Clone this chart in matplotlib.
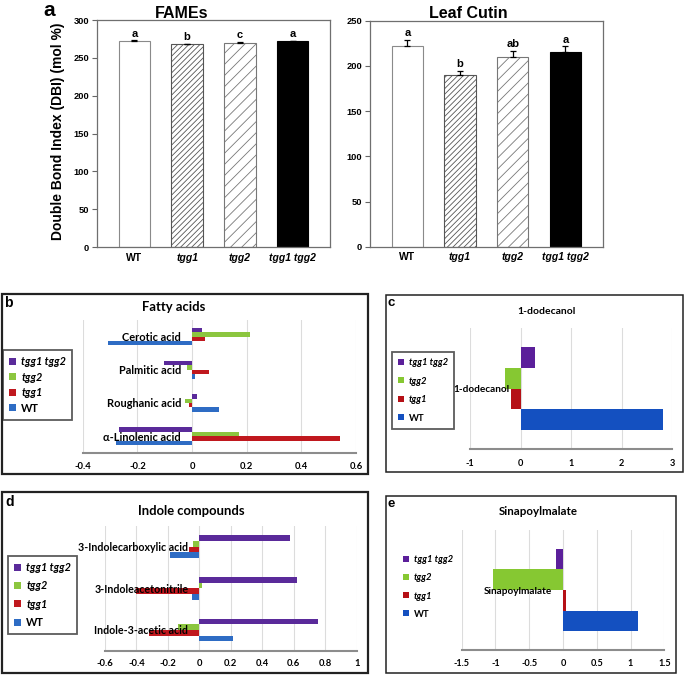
import numpy as np
import matplotlib
matplotlib.use("Agg")
import matplotlib.pyplot as plt
from matplotlib.patches import Rectangle, Patch

W, H = 685, 675

# ---- panel a data ----
genotypes = ["WT", "tgg1", "tgg2", "tgg1 tgg2"]
fames_dbi = [272.5, 268.3, 270.2, 271.8]
fames_err = [0.8, 0.6, 0.6, 0.8]
fames_letters = ["a", "b", "c", "a"]
cutin_dbi = [222.3, 190.3, 209.4, 215.7]
cutin_err = [6.3, 4.0, 7.0, 6.0]
cutin_letters = ["a", "b", "ab", "a"]

# ---- panels b-e data (series order: WT, tgg1, tgg2, tgg1 tgg2) ----
fatty_acids = ["α-Linolenic acid", "Roughanic acid", "Palmitic acid", "Cerotic acid"]
fatty_wt = [-0.279, 0.098, 0.010, -0.309]
fatty_tgg1 = [0.543, -0.011, 0.061, 0.048]
fatty_tgg2 = [0.172, -0.024, -0.017, 0.212]
fatty_dm = [-0.267, 0.020, -0.104, 0.037]

dodecanol = ["1-dodecanol"]
dodec_wt = [2.82]
dodec_tgg1 = [-0.18]
dodec_tgg2 = [-0.31]
dodec_dm = [0.28]

indoles = ["Indole-3-acetic acid", "3-Indoleacetonitrile", "3-Indolecarboxylic acid"]
indole_wt = [0.216, -0.044, -0.186]
indole_tgg1 = [-0.320, -0.403, -0.066]
indole_tgg2 = [-0.138, 0.019, -0.038]
indole_dm = [0.756, 0.619, 0.576]

sinapoyl = ["Sinapoylmalate"]
sinap_wt = [1.105]
sinap_tgg1 = [0.04]
sinap_tgg2 = [-1.04]
sinap_dm = [-0.099]

series_names = ["WT", "tgg1", "tgg2", "tgg1 tgg2"]

plt.rcParams['font.family'] = ['Lato', 'DejaVu Sans']
plt.rcParams['hatch.linewidth'] = 0.6

fig = plt.figure(figsize=(W / 100, H / 100), dpi=100)


def px_axes(left, top, right, bottom):
    return fig.add_axes([left / W, 1 - bottom / H, (right - left) / W, (bottom - top) / H])


def fig_text(x, y, s, **kw):
    return fig.text(x / W, 1 - y / H, s, **kw)


def box(left, top, right, bottom, lw=1.5, color='#222222'):
    fig.add_artist(Rectangle((left / W, 1 - bottom / H), (right - left) / W, (bottom - top) / H,
                             transform=fig.transFigure, fill=False, edgecolor=color, lw=lw))


# ================= panel a =================
arial = ['Liberation Sans', 'DejaVu Sans']
bar_styles = [
    dict(color='white', edgecolor='#8a8a8a', hatch=None),
    dict(color='white', edgecolor='#555555', hatch='//////'),
    dict(color='white', edgecolor='#777777', hatch='///'),
    dict(color='black', edgecolor='black', hatch=None),
]


def dbi_panel(ax, vals, errs, letters, ymax, step):
    x = np.arange(len(vals))
    for i in range(len(vals)):
        st = bar_styles[i]
        ax.bar(x[i], vals[i], 0.6, facecolor=st['color'], edgecolor=st['edgecolor'],
               hatch=st['hatch'], linewidth=0.8)
    ax.errorbar(x, vals, yerr=[np.zeros(len(errs)), errs], fmt='none', ecolor='black',
                elinewidth=0.9, capsize=2.2, capthick=0.9)
    for xi, v, e, l in zip(x, vals, errs, letters):
        ax.annotate(l, (xi, v + e), xytext=(0, 1.2), textcoords='offset points',
                    ha='center', va='bottom', fontsize=8, fontweight='bold', family=arial)
    ax.set_xlim(-0.71, 3.71)
    ax.set_ylim(0, ymax)
    ax.set_yticks(np.arange(0, ymax + 1, step))
    ax.set_xticks(x)
    ax.set_xticklabels(genotypes)
    for i, t in enumerate(ax.get_xticklabels()):
        t.set_fontweight('bold')
        t.set_family(arial)
        t.set_fontsize(7.5)
        if i > 0:
            t.set_fontstyle('italic')
    for t in ax.get_yticklabels():
        t.set_fontweight('bold')
        t.set_family(arial)
        t.set_fontsize(6.7)
    ax.tick_params(axis='x', length=0, pad=4)
    ax.tick_params(axis='y', length=3.3, width=0.8, pad=2.5, color='#666666')
    for s in ax.spines.values():
        s.set_color('#6f6f6f')
        s.set_linewidth(0.9)


ax_fames = px_axes(97, 20, 330, 247)
dbi_panel(ax_fames, fames_dbi, fames_err, fames_letters, 300, 50)
ax_cutin = px_axes(370, 20.7, 602.7, 246.7)
dbi_panel(ax_cutin, cutin_dbi, cutin_err, cutin_letters, 250, 50)

fig_text(182, 13.5, "FAMEs", ha='center', va='center', fontsize=11.5, fontweight='bold', family=arial)
fig_text(468, 13.5, "Leaf Cutin", ha='center', va='center', fontsize=11.5, fontweight='bold', family=arial)
fig_text(58, 131, "Double Bond Index (DBI) (mol %)", rotation=90, ha='center', va='center',
         fontsize=10, fontweight='bold', family=arial)
fig_text(49, 15.5, "a", ha='center', va='baseline', fontsize=15, fontweight='bold', family=arial)

# ================= panels b-e =================
colors = ['#2e6cc4', '#c0181e', '#8cc63f', '#5a2a9a']
colors_dark = ['#1450c0', '#b51016', '#86c832', '#5b1f9a']


def hbar_panel(ax, cats, series, cols, height, xticks, label_fs, tick_fs, tick_pad):
    # category axis sits at x = 0 (Excel style); do this first, it resets the ticks
    ax.spines['left'].set_position(('data', 0))
    ax.spines['left'].set_visible(False)
    ax.spines['top'].set_visible(False)
    ax.spines['right'].set_visible(False)
    y = np.arange(len(cats))
    n = len(series)
    for i, (vals, c) in enumerate(zip(series, cols)):
        off = (i - (n - 1) / 2) * height
        ax.barh(y + off, vals, height=height, color=c, zorder=1)
    for t in xticks:
        ax.axvline(t, color='#dcdcdc', lw=0.8, zorder=0.5)
    ax.set_xlim(xticks[0], xticks[-1])
    ax.set_ylim(-0.5, len(cats) - 0.5)
    ax.set_xticks(xticks)
    ax.set_xticklabels([f"{t:g}" for t in xticks], fontweight='bold', fontsize=tick_fs)
    ax.set_yticks(y)
    ax.set_yticklabels(cats, fontweight='bold', fontsize=label_fs)
    ax.spines['bottom'].set_color('#8c8c8c')
    ax.spines['bottom'].set_linewidth(1.5)
    ax.tick_params(axis='x', length=0, pad=tick_pad)
    ax.tick_params(axis='y', length=0, pad=8)
    ax.patch.set_alpha(0)


def add_legend(ax, cols, x, y, fs, spacing, frame=True, bpad=0.55):
    handles = [Patch(facecolor=c, label=l) for c, l in zip(cols[::-1], series_names[::-1])]
    leg = ax.legend(handles=handles, loc='upper left', bbox_to_anchor=(x / W, 1 - y / H),
                    bbox_transform=fig.transFigure, borderaxespad=0, frameon=frame,
                    fancybox=False, edgecolor='#333333', handlelength=0.6, handleheight=0.6,
                    handletextpad=0.5, labelspacing=spacing, borderpad=bpad,
                    prop=dict(size=fs, weight='bold'))
    leg.get_frame().set_linewidth(1.3)
    for t in leg.get_texts():
        if t.get_text() != "WT":
            t.set_fontstyle('italic')
    return leg


# b: fatty acids
box(2, 294, 368, 474, lw=1.6)
ax_b = px_axes(82.7, 320, 356, 452.7)
hbar_panel(ax_b, fatty_acids, [fatty_wt, fatty_tgg1, fatty_tgg2, fatty_dm], colors, 0.133,
           [-0.4, -0.2, 0, 0.2, 0.4, 0.6], 7.9, 6.8, 7)
add_legend(ax_b, colors, 3.5, 350, 7.8, 0.42)
fig_text(174, 307, "Fatty acids", ha='center', va='center', fontsize=9.4, fontweight='bold')
fig_text(4, 303, "b", ha='left', va='center', fontsize=10, fontweight='bold', family=arial)

# c: 1-dodecanol
box(385.7, 295, 683, 472, lw=1.1)
ax_c = px_axes(470, 328.3, 672.3, 449)
hbar_panel(ax_c, dodecanol, [dodec_wt, dodec_tgg1, dodec_tgg2, dodec_dm], colors_dark, 0.1725,
           [-1, 0, 1, 2, 3], 7.2, 6.6, 7)
add_legend(ax_c, colors_dark, 391.7, 351.7, 6.8, 1.0, bpad=0.7)
fig_text(546.7, 311.7, "1-dodecanol", ha='center', va='center', fontsize=7.5, fontweight='bold')
fig_text(388, 303.5, "c", ha='left', va='center', fontsize=9.5, fontweight='bold', family=arial)

# d: indole compounds
box(2, 492, 368, 673, lw=1.6)
ax_d = px_axes(105, 525.7, 356.7, 650.7)
hbar_panel(ax_d, indoles, [indole_wt, indole_tgg1, indole_tgg2, indole_dm], colors, 0.136,
           [-0.6, -0.4, -0.2, 0, 0.2, 0.4, 0.6, 0.8, 1], 7.7, 6.8, 6)
add_legend(ax_d, colors, 8.3, 556, 7.8, 0.68)
fig_text(191, 510.7, "Indole compounds", ha='center', va='center', fontsize=9.4, fontweight='bold')
fig_text(5, 502, "d", ha='left', va='center', fontsize=10, fontweight='bold', family=arial)

# e: sinapoylmalate
box(385.7, 495.7, 675.7, 673, lw=1.1)
ax_e = px_axes(461.7, 530, 664.3, 650)
hbar_panel(ax_e, sinapoyl, [sinap_wt, sinap_tgg1, sinap_tgg2, sinap_dm], colors_dark, 0.1725,
           [-1.5, -1, -0.5, 0, 0.5, 1, 1.5], 7.2, 6.6, 6.5)
add_legend(ax_e, colors_dark, 398, 550, 6.8, 0.97, frame=False)
fig_text(538, 511.7, "Sinapoylmalate", ha='center', va='center', fontsize=8.3, fontweight='bold')
fig_text(388, 504, "e", ha='left', va='center', fontsize=9.5, fontweight='bold', family=arial)

fig.savefig("out.png", dpi=100)
